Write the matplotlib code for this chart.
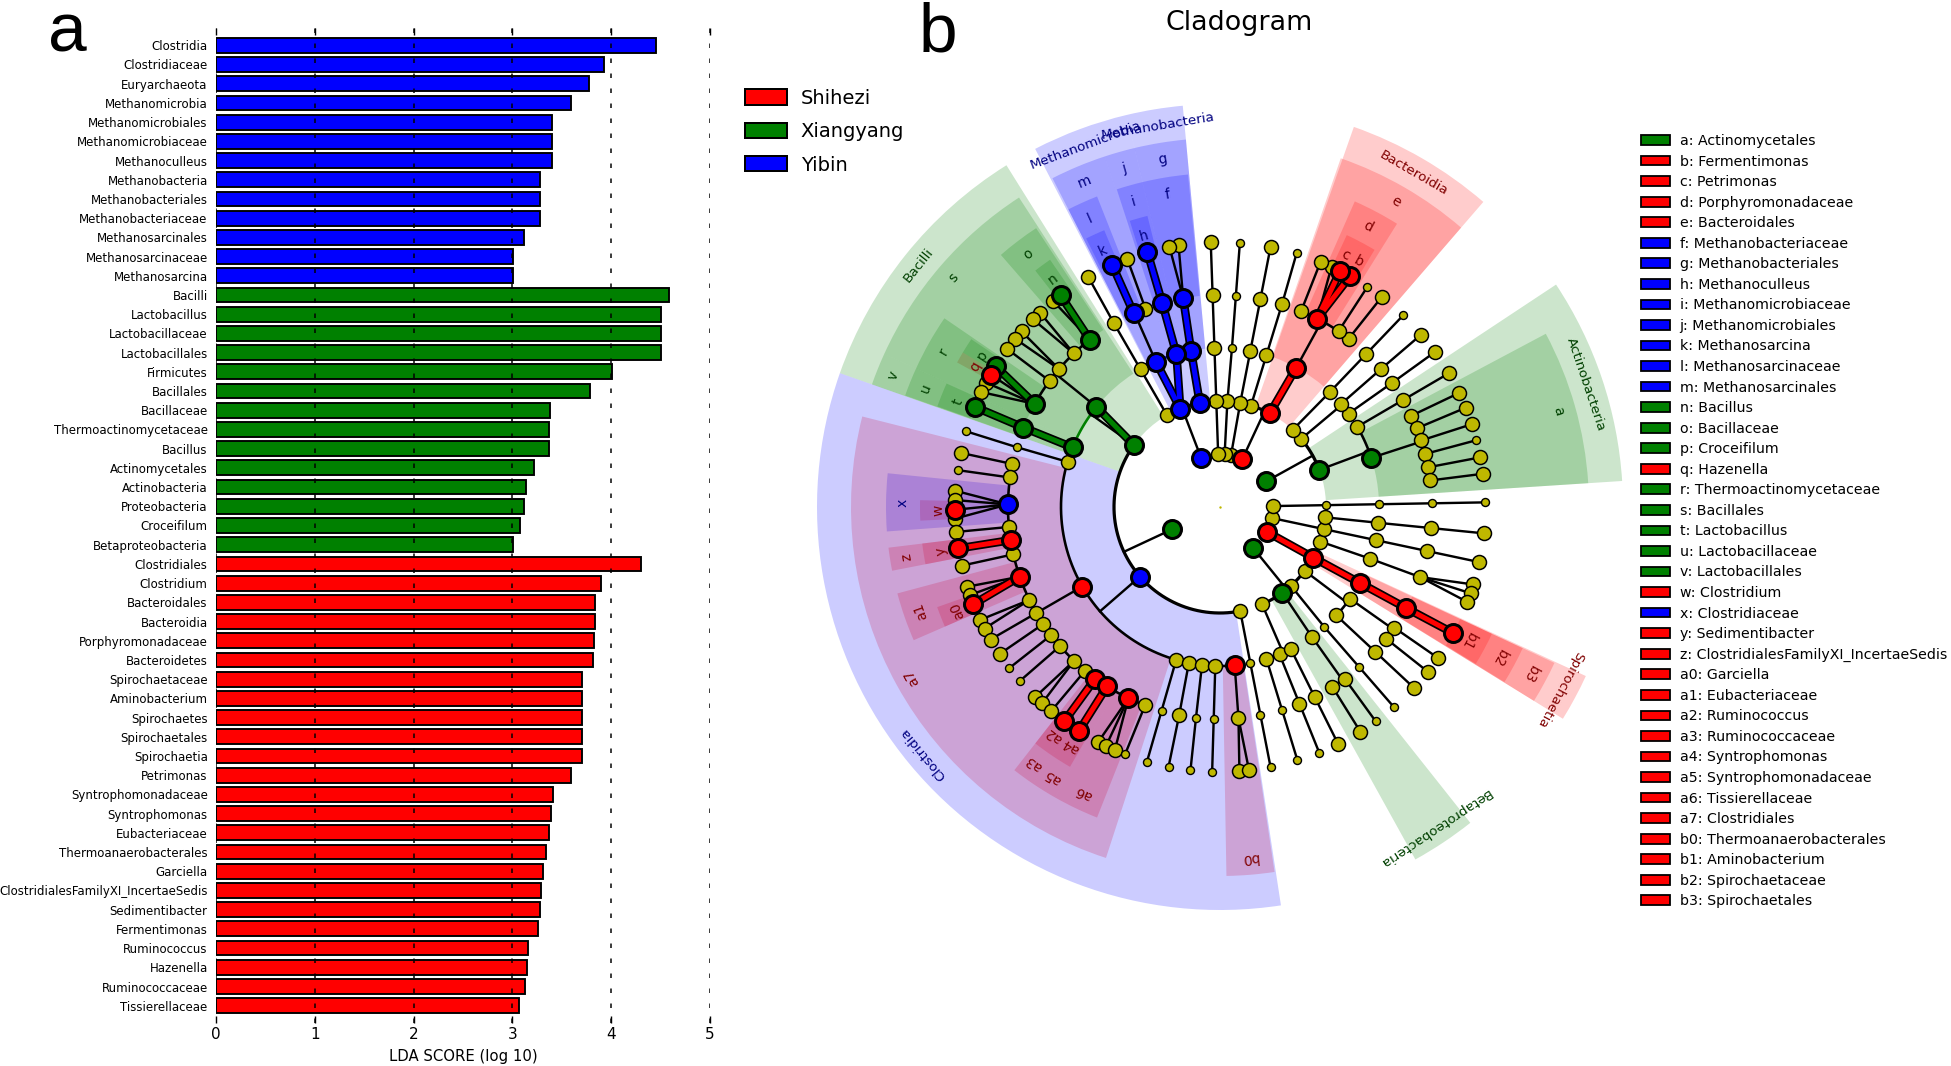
import numpy as np
import matplotlib
matplotlib.use('Agg')
import matplotlib.pyplot as plt
from matplotlib.patches import Patch

W, H = 1951, 1066

# LDA bars, top to bottom
bar_names = ['Clostridia', 'Clostridiaceae', 'Euryarchaeota', 'Methanomicrobia', 'Methanomicrobiales', 'Methanomicrobiaceae',
             'Methanoculleus', 'Methanobacteria', 'Methanobacteriales', 'Methanobacteriaceae', 'Methanosarcinales',
             'Methanosarcinaceae', 'Methanosarcina',
             'Bacilli', 'Lactobacillus', 'Lactobacillaceae', 'Lactobacillales', 'Firmicutes', 'Bacillales', 'Bacillaceae',
             'Thermoactinomycetaceae', 'Bacillus', 'Actinomycetales', 'Actinobacteria', 'Proteobacteria', 'Croceifilum',
             'Betaproteobacteria',
             'Clostridiales', 'Clostridium', 'Bacteroidales', 'Bacteroidia', 'Porphyromonadaceae', 'Bacteroidetes',
             'Spirochaetaceae', 'Aminobacterium', 'Spirochaetes', 'Spirochaetales', 'Spirochaetia', 'Petrimonas',
             'Syntrophomonadaceae', 'Syntrophomonas', 'Eubacteriaceae', 'Thermoanaerobacterales', 'Garciella',
             'ClostridialesFamilyXI_IncertaeSedis', 'Sedimentibacter', 'Fermentimonas', 'Ruminococcus', 'Hazenella',
             'Ruminococcaceae', 'Tissierellaceae']
bar_scores = [4.45, 3.93, 3.78, 3.59, 3.40, 3.40, 3.40, 3.28, 3.28, 3.28, 3.12, 3.01, 3.01,
              4.58, 4.50, 4.50, 4.50, 4.01, 3.79, 3.38, 3.37, 3.37, 3.22, 3.14, 3.12, 3.08, 3.01,
              4.30, 3.90, 3.84, 3.84, 3.83, 3.82, 3.70, 3.70, 3.70, 3.70, 3.70, 3.59, 3.41, 3.39, 3.37, 3.34, 3.31,
              3.29, 3.28, 3.26, 3.155, 3.15, 3.13, 3.07]
bar_groups = ['b'] * 13 + ['g'] * 14 + ['r'] * 24
group_names = ['Shihezi', 'Xiangyang', 'Yibin']
group_colors = ['r', 'g', 'b']

# cladogram key
key_letters = list('abcdefghijklmnopqrstuvwxyz') + ['a0', 'a1', 'a2', 'a3', 'a4', 'a5', 'a6', 'a7', 'b0', 'b1', 'b2', 'b3']
key_names = ['Actinomycetales', 'Fermentimonas', 'Petrimonas', 'Porphyromonadaceae', 'Bacteroidales', 'Methanobacteriaceae',
             'Methanobacteriales', 'Methanoculleus', 'Methanomicrobiaceae', 'Methanomicrobiales', 'Methanosarcina',
             'Methanosarcinaceae', 'Methanosarcinales', 'Bacillus', 'Bacillaceae', 'Croceifilum', 'Hazenella',
             'Thermoactinomycetaceae', 'Bacillales', 'Lactobacillus', 'Lactobacillaceae', 'Lactobacillales', 'Clostridium',
             'Clostridiaceae', 'Sedimentibacter', 'ClostridialesFamilyXI_IncertaeSedis', 'Garciella', 'Eubacteriaceae',
             'Ruminococcus', 'Ruminococcaceae', 'Syntrophomonas', 'Syntrophomonadaceae', 'Tissierellaceae', 'Clostridiales',
             'Thermoanaerobacterales', 'Aminobacterium', 'Spirochaetaceae', 'Spirochaetales']
key_colors = list('grrrrbbbbbbbbgggrgggggrbrr') + ['r'] * 12

# tree nodes per rank: angle in degrees, index of parent in the rank before
phylum_theta = [29, 65, 78, 85, 92, 111, 205, -51, -28, -12, 1]
phylum_color = {0: 'g', 1: 'r', 5: 'b', 6: 'g', 7: 'g', 8: 'r'}

class_theta = [20.5, 40, 46.7, 62, 73, 79, 86, 92, 101, 112, 120, 144.3, 221, 281, -66.6, -54, -48, -37, -28.5, -19, -12, -5.6, 1]
class_parent = [0, 0, 0, 1, 1, 2, 3, 4, 5, 5, 5, 6, 6, 6, 7, 7, 7, 7, 8, 9, 9, 9, 10]
class_color = {0: 'g', 3: 'r', 8: 'b', 9: 'b', 11: 'g', 12: 'b', 15: 'g', 18: 'r'}
class_bold = [18]
class_small = [22]

order_theta = [18, 30.3, 36, 40.4, 46.3, 61.3, 73, 79, 85.7, 92, 100.5, 105.9, 113.8, 120, 141, 158, 163.5, 210, 254, 258.7,
               263.5, 268.3, 275.3, 281, -73, -68, -63.5, -54.7, -49, -35.2, -43, -28.5, -19, -12, -5.7, 1]
order_parent = [0, 0, 1, 1, 2, 3, 4, 5, 6, 7, 8, 9, 9, 10, 11, 11, 12, 12, 12, 12, 12, 12, 12, 13, 14, 14, 14, 15, 16, 17, 17,
                18, 19, 20, 21, 22]
order_color = {0: 'g', 5: 'r', 10: 'b', 11: 'b', 12: 'b', 14: 'g', 15: 'g', 17: 'r', 22: 'r', 31: 'r'}
order_bold = [5, 10, 11, 12, 14, 31]
order_small = [8, 23, 28, 35]

family_theta = [25.5, 21.8, 18.3, 14.5, 10.8, 7.2, 30.3, 35.8, 40.6, 46.3, 52.6, 56, 62.7, 67.5, 73, 79, 85.7, 92, 100, 105.8,
                110.6, 114, 120, 127.9, 133.6, 139.4, 143.5, 150.9, 158, 163.6, 168.3, 172, 179.3, 185.4, 189, 192.9, 199.2,
                206, 210, 213.5, 217.2, 221, 226.5, 230.5, 234, 237.8, 244.4, 249.3, 254, 258.9, 263.5, 268.3, 275, 281,
                -73, -68, -63.5, -58, -54, -49, -34.7, -38.4, -43, -28.5, -19.3, -12, -5.7, 1]
family_parent = [0, 0, 0, 0, 0, 0, 1, 2, 3, 4, 5, 5, 5, 5, 6, 7, 8, 9, 10, 11, 12, 12, 13, 14, 14, 14, 14, 14, 15, 16,
                 17, 17, 17, 17, 17, 17, 17, 17, 17, 17, 17, 17, 17, 17, 17, 17, 17, 17, 18, 19, 20, 21, 22, 23,
                 24, 25, 26, 27, 27, 28, 29, 29, 30, 31, 32, 33, 34, 35]
family_color = {12: 'r', 18: 'b', 19: 'b', 21: 'b', 23: 'g', 27: 'g', 28: 'g', 32: 'b', 34: 'r', 36: 'r', 44: 'r', 45: 'r', 46: 'r', 63: 'r'}
family_bold = [18, 19, 28, 63]
family_small = [16, 29, 48, 50, 51, 53, 54, 59, 67]

genus_theta = [25.5, 22, 18.2, 14.6, 10.8, 7.2, 30.3, 35.8, 40.6, 46.3, 52.4, 56.2, 60.6, 63, 65.1, 67.7, 73.2, 79, 85.7, 92,
               99, 101, 105.9, 110.5, 114, 119.8, 127, 129, 132.8, 134.9, 138.5, 140.6, 143.4, 147.9, 150, 152, 154.3, 157.8,
               163.4, 168.2, 172, 176.5, 178.5, 182.5, 180.6, 185.4, 189, 192.8, 197.5, 199.4, 201.5, 205.2, 207.3, 210, 213.7,
               217.4, 221, 225.8, 227.8, 230.4, 234, 237.8, 242.6, 244.5, 246.6, 249, 254, 258.8, 263.6, 268.3, 274.2, 276.3, 281,
               -73, -68, -63.5, -58, -54, -49, -34.7, -38.4, -43, -28.4, -17, -19, -21, -12, -5.7, 1]
genus_parent = [0, 1, 2, 3, 4, 5, 6, 7, 8, 9, 10, 11, 12, 12, 12, 13, 14, 15, 16, 17, 18, 18, 19, 20, 21, 22, 23, 23, 24, 24, 25, 25,
                26, 27, 27, 27, 27, 28, 29, 30, 31, 32, 32, 32, 32, 33, 34, 35, 36, 36, 36, 37, 37, 38, 39, 40, 41, 42, 42, 43,
                44, 45, 46, 46, 46, 47, 48, 49, 50, 51, 52, 52, 53, 54, 55, 56, 57, 58, 59, 60, 61, 62, 63, 64, 64, 64, 65, 66, 67]
genus_color = {12: 'r', 13: 'r', 22: 'b', 24: 'b', 26: 'g', 33: 'g', 34: 'r', 37: 'g', 44: 'r', 46: 'r', 50: 'r', 60: 'r', 61: 'r', 82: 'r'}
genus_bold = [12, 13, 22, 24, 26, 33, 37, 46, 50, 60, 61, 82]
genus_small = [3, 9, 11, 16, 18, 38, 40, 55, 56, 65, 66, 67, 68, 69, 72, 73, 74, 77, 78, 88]

# shaded sectors: label, start, end, colour
class_labels = ['Actinobacteria', 'Bacteroidia', 'Methanobacteria', 'Methanomicrobia', 'Bacilli', 'Clostridia', 'Betaproteobacteria', 'Spirochaetia']
class_start = [3.7, 49.2, 95.3, 103.4, 122, 160.6, -61, -31.7]
class_end = [33.5, 70.6, 103.4, 117.3, 160.6, 278.7, -51.6, -24.8]
class_shade = ['g', 'r', 'b', 'b', 'g', 'b', 'g', 'r']

order_labels = ['a', 'e', 'g', 'j', 'm', 's', 'v', 'a7', 'b0', 'b3']
order_start = [3.7, 49.2, 95.3, 103.4, 108.2, 123, 155.5, 165.8, 271, -31.7]
order_end = [28, 70.9, 103.4, 108.2, 117, 155.5, 160.6, 252, 278.5, -25]
order_shade = ['g', 'r', 'b', 'b', 'b', 'g', 'g', 'r', 'r', 'r']

family_labels = ['d', 'f', 'i', 'l', 'o', 'r', 'u', 'x', 'z', 'a1', 'a3', 'a5', 'a6', 'b2']
family_start = [58, 95.5, 103.5, 111.6, 123.4, 145.6, 155.5, 174.2, 187, 195, 232, 236, 240.4, -31.6]
family_end = [66.2, 103.5, 108, 117, 131, 155.5, 160.5, 184.2, 191, 203.5, 236, 240.4, 248.4, -25]
family_shade = ['r', 'b', 'b', 'b', 'g', 'g', 'g', 'b', 'r', 'r', 'r', 'r', 'r', 'r']

genus_labels = ['b', 'c', 'h', 'k', 'n', 'p', 'q', 't', 'w', 'y', 'a0', 'a2', 'a4', 'b1']
genus_start = [59, 62, 104, 112.7, 124.5, 146, 149, 155.7, 178.7, 187, 199.5, 232, 236, -31.5]
genus_end = [62, 65, 107.5, 116.5, 128, 149, 151.2, 160.4, 182.6, 191, 203.5, 236, 240, -25]
genus_shade = ['r', 'r', 'b', 'b', 'g', 'g', 'r', 'g', 'r', 'r', 'r', 'r', 'r', 'r']

px = 0.72  # points per pixel at dpi 100
dark = {'r': '#800000', 'g': '#004000', 'b': '#000080'}
node_rgb = {'r': 'r', 'g': 'g', 'b': 'b', 'y': (0.75, 0.72, 0.0)}
STEP = 53


def bars(fig):
    ax = fig.add_axes([216 / W, 1 - 1023 / H, (710 - 216) / W, (1023 - 28) / H])
    ax.barh(range(len(bar_names)), bar_scores, height=0.77, color=bar_groups, edgecolor='k', linewidth=1.9 * px, zorder=2)
    ax.set_xlim(0, 5)
    ax.set_ylim(50.9, -0.9)
    ax.set_yticks(range(len(bar_names)), bar_names, fontsize=8.45)
    ax.set_xticks(range(6))
    ax.tick_params(axis='y', length=0, pad=6)
    ax.tick_params(axis='x', direction='in', top=True, length=5, width=1.4 * px, labelsize=11, pad=3)
    ax.grid(axis='x', color='k', linestyle=(0, (3, 7)), linewidth=1.5 * px, zorder=3)
    ax.set_axisbelow(False)
    for s in ax.spines.values():
        s.set_visible(False)
    ax.set_xlabel('LDA SCORE (log 10)', fontsize=10.7, labelpad=5)
    hs = [Patch(facecolor=c, edgecolor='k', linewidth=2 * px) for c in group_colors]
    fig.legend(hs, group_names, loc='upper left', bbox_to_anchor=(737 / W, 1 - 81 / H), frameon=False, fontsize=14,
               handlelength=2.15, handleheight=0.82, labelspacing=0.74, handletextpad=0.72, borderaxespad=0, borderpad=0.4)


def sectors(ax, labels, start, end, shade, r0, r1, rtext, fs):
    for lab, a, b, c in zip(labels, start, end, shade):
        ax.bar(np.radians((a + b) / 2), r1 - r0, width=np.radians(b - a), bottom=r0, color=c, alpha=0.2, linewidth=0, zorder=1)
        mid = (a + b) / 2
        ax.text(np.radians(mid), rtext, lab, rotation=mid - 90, rotation_mode='anchor', ha='center', va='center',
                color=dark[c], fontsize=fs, zorder=6)


def links(ax, r0, r1, parent_theta, theta, parent, bold, color, parent_color, is_leaf):
    for p, a0 in enumerate(parent_theta):
        kids = [i for i, q in enumerate(parent) if q == p]
        if not kids:
            continue
        angs = [theta[i] for i in kids]
        thin = [i for i in kids if i not in bold]
        if not is_leaf and len(kids) > 1:
            cols = {color.get(i, 'y') for i in kids}
            c = parent_color.get(p, 'k') if cols == {parent_color.get(p)} else 'k'
            sweep = np.radians(np.linspace(min(angs), max(angs), 60))
            lw = 3.2 if r1 <= 2 * STEP else 2.6
            ax.plot(sweep, [r1] * 60, color=c, lw=lw * px, zorder=3, solid_capstyle='round')
            if thin:
                ax.plot(np.radians([a0, a0]), [r0, r1], color='k', lw=2.4 * px, zorder=3)
        else:
            for i in thin:
                ax.plot(np.radians([a0, theta[i]]), [r0, r1], color='k', lw=2.4 * px, zorder=3)
        for i in kids:
            if i in bold:
                t = np.radians([a0, theta[i]])
                ax.plot(t, [r0, r1], color='k', lw=8.5 * px, zorder=3.1, solid_capstyle='butt')
                ax.plot(t, [r0, r1], color=color[i], lw=5 * px, zorder=3.2, solid_capstyle='butt')


def nodes(ax, r, theta, color, small):
    for i, a in enumerate(theta):
        c = color.get(i, 'y')
        if c != 'y':
            d, e = 18, 3
        elif i in small:
            d, e = 8, 1.4
        else:
            d, e = 14, 1.5
        ax.scatter(np.radians(a), r, s=(d * px) ** 2, color=[node_rgb[c]], edgecolors='k', linewidths=e * px,
                   zorder=5 if c == 'y' else 5.5)


def cladogram(fig):
    R = 430
    cx, cy = 1220, 507
    ax = fig.add_axes([(cx - R) / W, 1 - (cy + R) / H, 2 * R / W, 2 * R / H], projection='polar')
    ax.set_axis_off()
    # deepest rank first, the class shade goes over the rest
    sectors(ax, genus_labels, genus_start, genus_end, genus_shade, 5 * STEP, 300, 282, 10)
    sectors(ax, family_labels, family_start, family_end, family_shade, 4 * STEP, 334, 317, 10)
    sectors(ax, order_labels, order_start, order_end, order_shade, 3 * STEP, 369, 352, 10)
    sectors(ax, class_labels, class_start, class_end, class_shade, 2 * STEP, 403, 386, 9.7)

    links(ax, STEP, 2 * STEP, phylum_theta, class_theta, class_parent, class_bold, class_color, phylum_color, False)
    links(ax, 2 * STEP, 3 * STEP, class_theta, order_theta, order_parent, order_bold, order_color, class_color, False)
    links(ax, 3 * STEP, 4 * STEP, order_theta, family_theta, family_parent, family_bold, family_color, order_color, False)
    links(ax, 4 * STEP, 5 * STEP, family_theta, genus_theta, genus_parent, genus_bold, genus_color, family_color, True)

    nodes(ax, STEP, phylum_theta, phylum_color, [])
    nodes(ax, 2 * STEP, class_theta, class_color, class_small)
    nodes(ax, 3 * STEP, order_theta, order_color, order_small)
    nodes(ax, 4 * STEP, family_theta, family_color, family_small)
    nodes(ax, 5 * STEP, genus_theta, genus_color, genus_small)
    ax.scatter([0], [0], s=3, color=[node_rgb['y']], linewidths=0, zorder=5)
    ax.set_ylim(0, R)

    hs = [Patch(facecolor=c, edgecolor='k', linewidth=1.8 * px) for c in key_colors]
    labs = [f'{a}: {b}' for a, b in zip(key_letters, key_names)]
    fig.legend(hs, labs, loc='upper left', bbox_to_anchor=(1641 / W, 1 - 134 / H), frameon=False, fontsize=10.2,
               handlelength=2.05, handleheight=0.68, labelspacing=0.462, handletextpad=0.68, borderaxespad=0, borderpad=0)


fig = plt.figure(figsize=(W / 100, H / 100), dpi=100)
bars(fig)
cladogram(fig)
fig.text(1239 / W, 1 - 23 / H, 'Cladogram', fontsize=19.4, ha='center', va='center')
fig.text(48 / W, 1 - 52 / H, 'a', fontsize=50, family='Liberation Sans', ha='left', va='baseline')
fig.text(919 / W, 1 - 52 / H, 'b', fontsize=50, family='Liberation Sans', ha='left', va='baseline')
fig.savefig('out.png', dpi=100)
